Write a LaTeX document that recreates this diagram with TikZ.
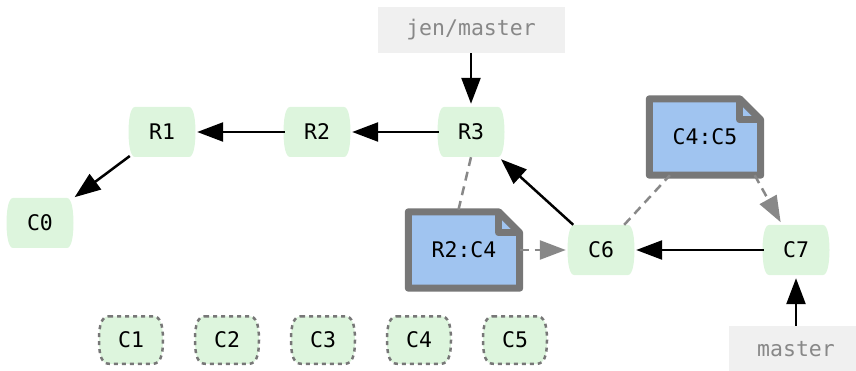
\documentclass[tikz,border=0pt]{standalone}
\usepackage{fontspec}
\setmonofont{DejaVu Sans Mono}
\usepackage{xcolor}
\definecolor{cmtfill}{HTML}{DDF5DD}
\definecolor{notefill}{HTML}{A0C4F0}
\definecolor{noteline}{HTML}{777777}
\definecolor{reffill}{HTML}{F0F0F0}
\definecolor{reftext}{HTML}{888888}
\usetikzlibrary{arrows.meta}
\usetikzlibrary{backgrounds}
\tikzset{
  commit/.style={rectangle,minimum width=64pt,minimum height=50pt,inner sep=0pt,
    font=\ttfamily\fontsize{21.5}{21.5}\selectfont},
  ghost/.style={commit,minimum width=64pt,minimum height=47.5pt},
  commitshape/.style={fill=cmtfill},
  ghostshape/.style={fill=cmtfill,draw=noteline,line width=2.5pt,
    dash pattern=on 4pt off 4pt},
  note/.style={rectangle,minimum width=111pt,minimum height=76pt,inner sep=0pt,
    font=\ttfamily\fontsize{21.5}{21.5}\selectfont},
  noteshape/.style={draw=noteline,fill=notefill,line width=7pt,line join=round},
  ref/.style={rectangle,fill=reffill,text=reftext,minimum height=46pt,inner sep=0pt,
    font=\ttfamily\fontsize{21.5}{21.5}\selectfont},
  link/.style={line width=2.5pt,-{Triangle[length=26pt,width=19pt]},shorten >=3pt},
  dashlink/.style={line width=2.5pt,draw=reftext,dash pattern=on 9pt off 6pt},
  dasharrow/.style={dashlink,-{Triangle[length=26pt,width=19pt]},shorten >=3pt},
}
\newcommand{\notefold}[1]{%
  \begin{scope}[on background layer]
  \path[noteshape] (#1.north west) -- ([xshift=-21pt]#1.north east)
    -- ([yshift=-21pt]#1.north east) -- (#1.south east) -- (#1.south west) -- cycle;
  \draw[noteshape,fill=none] ([xshift=-21pt]#1.north east) |- ([yshift=-21pt]#1.north east);
  \end{scope}}

\begin{document}
\begin{tikzpicture}[x=1pt,y=-1pt]
\useasboundingbox (0,0) rectangle (856,371);
\node[commit] (c0) at (40,223) {C0};
\node[commit] (r1) at (162,132) {R1};
\node[commit] (r2) at (317,132) {R2};
\node[commit] (r3) at (471,132) {R3};
\node[commit] (c6) at (601,250) {C6};
\node[commit] (c7) at (796,250) {C7};
\node[ghost] (c1) at (131,340) {C1};
\node[ghost] (c2) at (227,340) {C2};
\node[ghost] (c3) at (323,340) {C3};
\node[ghost] (c4) at (419,340) {C4};
\node[ghost] (c5) at (515,340) {C5};
\node[note] (n1) at (464,250) {R2:C4};
\node[note] (n2) at (705,137) {C4:C5};
\notefold{n1}
\notefold{n2}
\node[ref,minimum width=187pt] (jen) at (471,30) {jen/master};
\node[ref,minimum width=134pt] (mst) at (796,349) {master};
% commit outlines
\begin{scope}[on background layer]
\foreach \n in {c0,r1,r2,r3,c6,c7}
  \path[commitshape,shift={(\n.center)}] (-27,-25) -- (27,-25)
    .. controls (31.5,-25) and (33.5,-13) .. (33.5,0)
    .. controls (33.5,13) and (31.5,25) .. (27,25) -- (-27,25)
    .. controls (-31.5,25) and (-33.5,13) .. (-33.5,0)
    .. controls (-33.5,-13) and (-31.5,-25) .. (-27,-25) -- cycle;
\foreach \n in {c1,c2,c3,c4,c5}
  \path[ghostshape,shift={(\n.center)}] (-22,-23.75) -- (22,-23.75)
    .. controls (29,-23.75) and (32,-16) .. (32,0)
    .. controls (32,16) and (29,23.75) .. (22,23.75) -- (-22,23.75)
    .. controls (-29,23.75) and (-32,16) .. (-32,0)
    .. controls (-32,-16) and (-29,-23.75) .. (-22,-23.75) -- cycle;
\end{scope}
% history
\draw[link] (r2) -- (r1);
\draw[link] (r3) -- (r2);
\draw[link] (r1) -- (c0);
\draw[link] (c6) -- (r3);
\draw[link] (c7) -- (c6);
\draw[link] (jen) -- (r3);
\draw[link] (mst) -- (c7);
% notes
\draw[dashlink] (r3.south) -- ([xshift=-6pt]n1.north);
\draw[dasharrow] (n1) -- (c6);
\draw[dashlink] (c6) -- (n2);
\draw[dasharrow] ([xshift=-6pt]n2.south east) -- (c7);
\end{tikzpicture}
\end{document}
